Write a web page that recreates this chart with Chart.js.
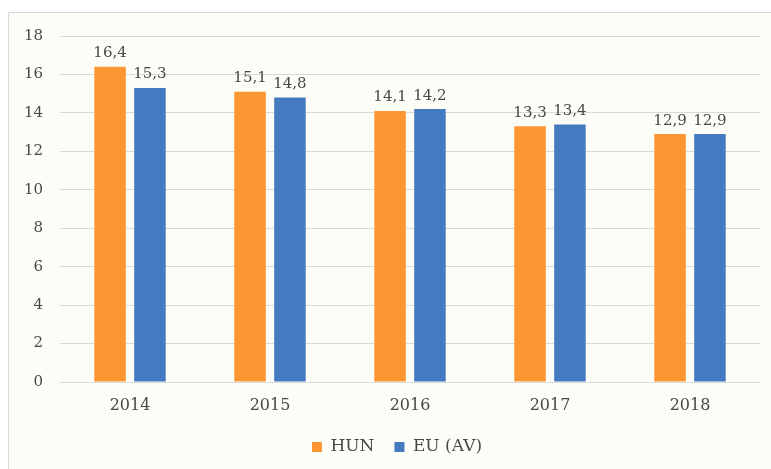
<!DOCTYPE html>
<html>
<head>
<meta charset="utf-8">
<script src="https://cdn.jsdelivr.net/npm/chart.js@4.4.1/dist/chart.umd.min.js"></script>
<style>
  html, body { margin: 0; padding: 0; background: #ffffff; }
  #wrap { position: relative; width: 771px; height: 469px; }
</style>
</head>
<body>
<div id="wrap"><canvas id="c" width="771" height="469"></canvas></div>
<script>
const categories = ['2014', '2015', '2016', '2017', '2018'];
const hunValues = [16.4, 15.1, 14.1, 13.3, 12.9];
const euValues = [15.3, 14.8, 14.2, 13.4, 12.9];
const seriesNames = ['HUN', 'EU (AV)'];
const yTicks = [0, 2, 4, 6, 8, 10, 12, 14, 16, 18];

const textColor = '#484848';
const serif = "'DejaVu Serif', 'Liberation Serif', serif";

const frame = {
  id: 'frame',
  beforeDraw(chart) {
    const ctx = chart.ctx;
    ctx.save();
    ctx.fillStyle = '#ffffff';
    ctx.fillRect(0, 0, chart.width, chart.height);
    ctx.fillStyle = '#FDFDF8';
    ctx.fillRect(8, 12, chart.width, chart.height);
    ctx.strokeStyle = '#D9D9D9';
    ctx.lineWidth = 1;
    ctx.beginPath();
    ctx.moveTo(8.5, chart.height);
    ctx.lineTo(8.5, 12.5);
    ctx.lineTo(chart.width, 12.5);
    ctx.stroke();
    ctx.restore();
  }
};

const legendShift = {
  id: 'legendShift',
  afterLayout(chart) {
    if (chart.legend) {
      chart.legend.left += 17;
      chart.legend.right += 17;
    }
  }
};

const valueLabels = {
  id: 'valueLabels',
  afterDatasetsDraw(chart) {
    const ctx = chart.ctx;
    ctx.save();
    ctx.font = '15px ' + serif;
    ctx.fillStyle = textColor;
    ctx.textAlign = 'center';
    ctx.textBaseline = 'alphabetic';
    chart.data.datasets.forEach((ds, di) => {
      const meta = chart.getDatasetMeta(di);
      meta.data.forEach((bar, i) => {
        const txt = ds.data[i].toFixed(1).replace('.', ',');
        ctx.fillText(txt, bar.x, bar.y - 9.5);
      });
    });
    ctx.restore();
  }
};

new Chart(document.getElementById('c'), {
  type: 'bar',
  data: {
    labels: categories,
    datasets: [
      { label: seriesNames[0], data: hunValues, backgroundColor: '#FC9632', borderWidth: 0 },
      { label: seriesNames[1], data: euValues, backgroundColor: '#447BC0', borderWidth: 0 }
    ]
  },
  options: {
    responsive: false,
    animation: false,
    devicePixelRatio: 1,
    layout: { padding: { left: 0, right: 11, top: 36, bottom: 3.5 } },
    datasets: { bar: { categoryPercentage: 0.57, barPercentage: 0.79 } },
    scales: {
      x: {
        grid: { display: false, drawTicks: false },
        border: { display: false },
        ticks: { color: textColor, font: { family: serif, size: 16 }, padding: 14 },
        afterFit(scale) { scale.height = 36.5; }
      },
      y: {
        min: 0, max: 18,
        afterBuildTicks(scale) { scale.ticks = yTicks.map(v => ({ value: v })); },
        grid: { color: '#D9D9D9', lineWidth: 1, drawTicks: false },
        border: { display: false },
        ticks: { color: textColor, font: { family: serif, size: 15 }, padding: 17 },
        afterFit(scale) { scale.width = 60; }
      }
    },
    plugins: {
      legend: {
        position: 'bottom',
        labels: {
          boxWidth: 10, boxHeight: 10, padding: 20,
          color: textColor,
          font: { family: serif, size: 17 }
        }
      },
      tooltip: { enabled: false },
      title: { display: false }
    }
  },
  plugins: [frame, legendShift, valueLabels]
});
</script>
</body>
</html>
